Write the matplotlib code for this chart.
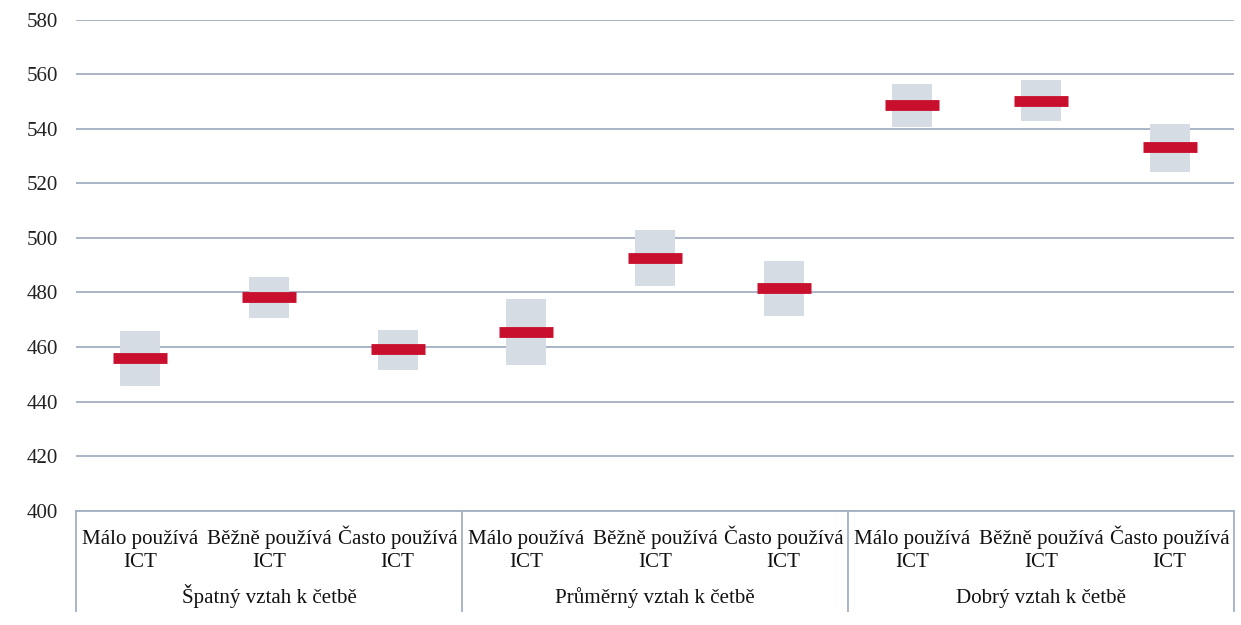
import matplotlib
matplotlib.use("Agg")
import matplotlib.pyplot as plt
from matplotlib.transforms import blended_transform_factory

plt.rcParams['font.family'] = ['Liberation Serif', 'DejaVu Serif']

groups = ["Špatný vztah k četbě", "Průměrný vztah k četbě", "Dobrý vztah k četbě"]
categories = ["Málo používá\nICT", "Běžně používá\nICT", "Často používá\nICT"] * 3
means = [455.9, 478.2, 459.2, 465.4, 492.5, 481.5, 548.6, 550.4, 533.2]
lows = [445.6, 470.5, 451.7, 453.3, 482.3, 471.4, 540.6, 542.9, 524.3]
highs = [465.9, 485.7, 466.4, 477.5, 502.9, 491.7, 556.3, 557.9, 541.8]
yticks = [400, 420, 440, 460, 480, 500, 520, 540, 560, 580]

grid_c = "#A3B0C4"
box_c = "#D6DCE4"
red_c = "#C8102E"
fs = 15.1

fig = plt.figure(figsize=(12.41, 6.25), dpi=100)
ax = fig.add_axes([76/1241, 1-510.6/625, (1234-76)/1241, (510.6-19.8)/625])

x = list(range(len(means)))
ax.bar(x, [h - l for h, l in zip(highs, lows)], bottom=lows, width=0.31, color=box_c, zorder=2)
ax.hlines(means, [i - 0.21 for i in x], [i + 0.21 for i in x], colors=red_c, linewidth=7.8, zorder=3)

ax.set_xlim(-0.5, len(means) - 0.5)
ax.set_ylim(400, 580)
ax.set_yticks(yticks)
ax.set_yticklabels([str(t) for t in yticks], fontsize=fs, color="#222222")
ax.tick_params(axis='y', length=0, pad=13)
ax.set_xticks([])
ax.grid(axis='y', color=grid_c, linewidth=1.3, zorder=0)
ax.set_axisbelow(True)
for s in ['top', 'right', 'left']:
    ax.spines[s].set_visible(False)
ax.spines['bottom'].set_color(grid_c)
ax.spines['bottom'].set_linewidth(1.3)

tr = blended_transform_factory(ax.transData, ax.transAxes)
for i, lab in enumerate(categories):
    l1, l2 = lab.split("\n")
    ax.text(i, -0.0677, l1, transform=tr, ha='center', va='baseline', fontsize=fs, color="#111111")
    ax.text(i, -0.1143, l2, transform=tr, ha='center', va='baseline', fontsize=fs, color="#111111")
for g, name in enumerate(groups):
    ax.text(g * 3 + 1, -0.189, name, transform=tr, ha='center', va='baseline', fontsize=fs, color="#111111")
for b in [-0.5, 2.5, 5.5, 8.5]:
    ax.plot([b, b], [0, -0.2048], transform=tr, color=grid_c, linewidth=1.3, clip_on=False)

fig.savefig("out.png", dpi=100)
